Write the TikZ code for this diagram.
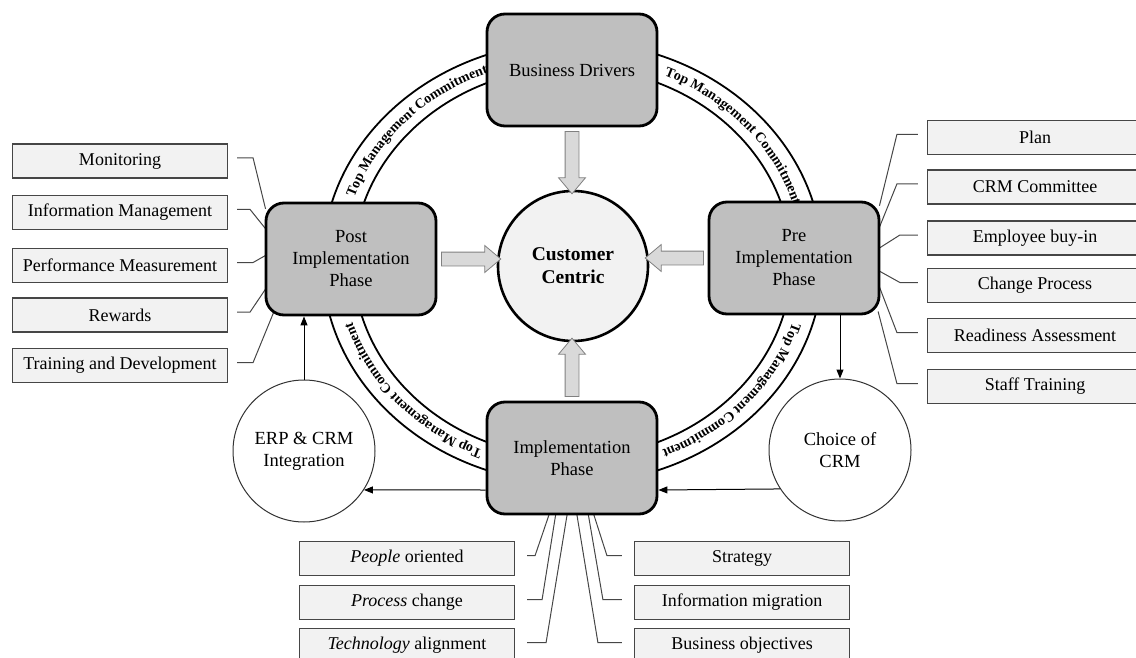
\documentclass[tikz,border=0pt]{standalone}
\usepackage{fontspec}
\setmainfont{Liberation Serif}
\usepackage{tikz}
\usetikzlibrary{arrows.meta, shapes.arrows, decorations.text, backgrounds, calc}

\definecolor{phasegray}{RGB}{191,191,191}
\definecolor{labelfill}{RGB}{242,242,242}
\definecolor{linkgray}{RGB}{70,70,70}
\definecolor{blockfill}{RGB}{217,217,217}

\newcommand{\ringfont}{\fontsize{14}{16}\selectfont\bfseries}
\newcommand{\ringtext}[1]{
    \path[decorate, decoration={text along path, text align=left,
        text={|\ringfont|Top Management Commitment}}]
        (o) ++(#1:230 and 204) arc[start angle=#1, delta angle=75, x radius=230, y radius=204];
}
\newcommand{\blockarrow}[2]{
    \path let \p1 = ($(#2)-(#1)$), \n1 = {veclen(\x1,\y1)} in
        (#1) -- (#2) node[midway, sloped, allow upside down, flow, minimum height=\n1] {};
}

\begin{document}
\begin{tikzpicture}[x=1pt, y=-1pt,
    phase/.style={draw, line width=2.8pt, fill=phasegray, rounded corners=18pt,
        minimum width=170pt, minimum height=112pt, align=center,
        font=\fontsize{18.5}{22}\selectfont},
    hub/.style={circle, draw, line width=2.6pt, fill=labelfill, minimum size=150pt,
        align=center, font=\fontsize{19.5}{23}\selectfont\bfseries},
    side/.style={circle, draw=black!80, line width=1pt, fill=white, minimum size=142pt,
        align=center, font=\fontsize{18.5}{22}\selectfont},
    item/.style={draw=linkgray, line width=1.2pt, fill=labelfill, minimum width=215pt,
        minimum height=34pt, inner sep=0pt, font=\fontsize{18}{20}\selectfont},
    link/.style={draw=linkgray, line width=1pt, shorten <=9pt, shorten >=-4pt},
    arr/.style={draw, line width=1pt, -{Triangle[length=9pt, width=7pt]}},
    ring/.style={line width=1.8pt},
    flow/.style={single arrow, draw=black!50, fill=blockfill, line width=0.8pt,
        minimum width=26pt, inner xsep=0pt, inner ysep=6.5pt,
        single arrow head extend=6.5pt, single arrow tip angle=80}]
    \useasboundingbox (0,0) rectangle (1136,658);

    \coordinate (o) at (572.5,262.5);
    \draw[ring] (o) ellipse[x radius=250, y radius=221];
    \draw[ring] (o) ellipse[x radius=219, y radius=195];
    \ringtext{198.5}
    \ringtext{293.5}
    \ringtext{17}
    \ringtext{113}

    \node[phase] (drv) at (572,70) {Business Drivers};
    \node[phase] (post) at (351,259) {Post\\Implementation\\Phase};
    \node[phase] (pre) at (794,258) {Pre\\Implementation\\Phase};
    \node[phase] (imp) at (572,458) {Implementation\\Phase};
    \node[hub] (cc) at (573,266) {Customer\\Centric};
    \node[side] (erp) at (304,451) {ERP \& CRM\\Integration};
    \node[side] (crm) at (840,450) {Choice of\\CRM};

    \node[item] (mon) at (120,161) {Monitoring};
    \node[item] (info) at (120,212.5) {Information Management};
    \node[item] (perf) at (120,265.5) {Performance Measurement};
    \node[item] (rew) at (120,315) {Rewards};
    \node[item] (train) at (120,365.5) {Training and Development};

    \node[item] (plan) at (1035,137.5) {Plan};
    \node[item] (comm) at (1035,187) {CRM Committee};
    \node[item] (buy) at (1035,238) {Employee buy-in};
    \node[item] (chg) at (1035,285.5) {Change Process};
    \node[item] (ready) at (1035,335.5) {Readiness Assessment};
    \node[item] (staff) at (1035,386.5) {Staff Training};

    \node[item] (ppl) at (407,558.5) {\textit{People} oriented};
    \node[item] (proc) at (407,602.5) {\textit{Process} change};
    \node[item] (tech) at (407,645.5) {\textit{Technology} alignment};
    \node[item] (strat) at (742,558.5) {Strategy};
    \node[item] (mig) at (742,602.5) {Information migration};
    \node[item] (obj) at (742,645.5) {Business objectives};

    \begin{pgfonlayer}{background}
        \draw[link] ([yshift=3pt]mon.east) -- ++(25,0) -- (post.148);
        \draw[link] ([yshift=3pt]info.east) -- ++(22,0) -- (post.160);
        \draw[link] ([yshift=3pt]perf.east) -- ++(25,0) -- (post.178);
        \draw[link] ([yshift=3pt]rew.east) -- ++(22,0) -- (post.200);
        \draw[link] ([yshift=3pt]train.east) -- ++(25,0) -- (post.216);

        \draw[link] ([yshift=3pt]plan.west) -- ++(-30,0) -- (pre.33);
        \draw[link] ([yshift=3pt]comm.west) -- ++(-30,0) -- (pre.21);
        \draw[link] ([yshift=3pt]buy.west) -- ++(-27,0) -- (pre.7);
        \draw[link] ([yshift=3pt]chg.west) -- ++(-27,0) -- (pre.351);
        \draw[link] ([yshift=3pt]ready.west) -- ++(-30,0) -- (pre.340);
        \draw[link] ([yshift=3pt]staff.west) -- ++(-30,0) -- (pre.326);

        \draw[link, shorten <=12pt] ([yshift=3pt]ppl.east) -- ++(20,0) -- (imp.248);
        \draw[link, shorten <=12pt] ([yshift=3pt]proc.east) -- ++(27,0) -- (imp.254);
        \draw[link, shorten <=12pt] ([yshift=3pt]tech.east) -- ++(31,0) -- (imp.265);
        \draw[link, shorten <=12pt] ([yshift=3pt]strat.west) -- ++(-27,0) -- (imp.291);
        \draw[link, shorten <=12pt] ([yshift=3pt]mig.west) -- ++(-31,0) -- (imp.286);
        \draw[link, shorten <=12pt] ([yshift=3pt]obj.west) -- ++(-36,0) -- (imp.275);
    \end{pgfonlayer}

    \blockarrow{drv.south}{drv.south |- cc.north}
    \blockarrow{post.east}{post.east -| cc.west}
    \blockarrow{pre.west}{pre.west -| cc.east}
    \blockarrow{imp.north}{imp.north |- cc.south}

    \draw[arr] (erp.north) -- (erp.north |- post.south);
    \draw[arr] (crm.north |- pre.south) -- (crm.north);
    \draw[arr] ([yshift=-32pt]imp.west) -- (erp.-33);
    \draw[arr] (crm.213) -- ([yshift=-32pt]imp.east);
\end{tikzpicture}
\end{document}
